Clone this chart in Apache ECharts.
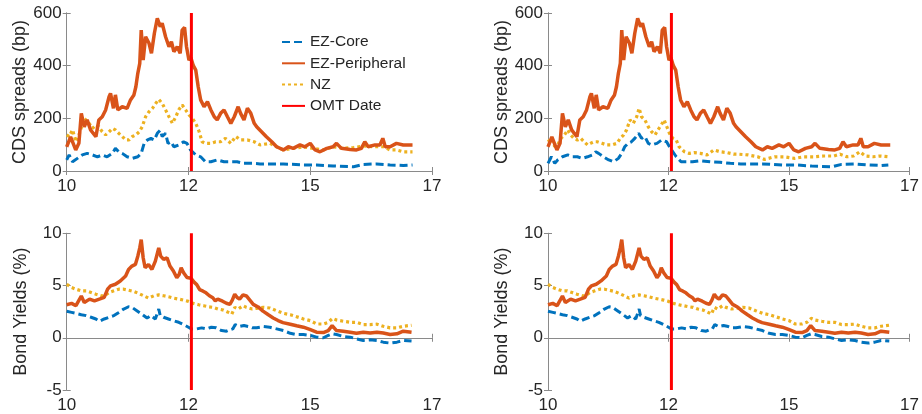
<!DOCTYPE html>
<html><head><meta charset="utf-8">
<script src="https://cdn.jsdelivr.net/npm/echarts@6/dist/echarts.min.js"></script>
<style>html,body{margin:0;padding:0;background:#fff}#c{width:922px;height:414px}</style>
</head><body><div id="c"></div><script>
// x values: years since 2010 (axis 0..7.5, ticks labelled as below)
const xTickLabels = ['10', '12', '15', '17'];
const seriesNames = ['EZ-Core', 'EZ-Peripheral', 'NZ', 'OMT Date'];
const omtDate = 2.56;

const cdsPeripheral = [[0,92],[0.08,130],[0.185,80],[0.25,105],[0.3,219],[0.36,168],[0.42,194],[0.49,156],[0.6,130],[0.66,194],[0.73,206],[0.8,232],[0.87,282],[0.9,295],[0.96,238],[1.0,289],[1.05,232],[1.14,244],[1.24,238],[1.31,270],[1.38,289],[1.42,320],[1.46,371],[1.5,409],[1.53,535],[1.57,421],[1.62,510],[1.69,485],[1.74,447],[1.8,523],[1.86,580],[1.92,548],[1.96,561],[2.03,510],[2.1,472],[2.15,491],[2.2,453],[2.27,472],[2.33,447],[2.37,535],[2.42,545],[2.46,472],[2.51,421],[2.55,430],[2.6,400],[2.65,383],[2.7,320],[2.75,270],[2.82,244],[2.89,263],[2.96,232],[3.03,206],[3.09,194],[3.16,219],[3.23,232],[3.3,206],[3.37,181],[3.44,206],[3.52,244],[3.57,219],[3.64,194],[3.71,238],[3.78,219],[3.85,181],[3.9,168],[4.0,149],[4.1,130],[4.21,111],[4.31,92],[4.45,80],[4.55,92],[4.65,86],[4.79,99],[4.89,92],[5.0,105],[5.1,80],[5.2,73],[5.34,86],[5.47,92],[5.54,105],[5.64,86],[5.82,82],[5.95,80],[6.05,86],[6.12,111],[6.19,92],[6.33,99],[6.43,99],[6.49,124],[6.54,92],[6.64,92],[6.77,105],[6.91,99],[7.05,99],[7.1,99]];

const cdsNZLeft = [[0,137],[0.05,131],[0.12,156],[0.19,111],[0.25,137],[0.32,175],[0.36,200],[0.39,194],[0.46,181],[0.53,162],[0.6,175],[0.66,168],[0.73,149],[0.8,137],[0.87,149],[0.94,162],[1.0,156],[1.07,143],[1.14,131],[1.21,118],[1.28,118],[1.35,131],[1.42,137],[1.49,149],[1.55,168],[1.62,206],[1.69,225],[1.76,238],[1.83,257],[1.89,272],[1.96,257],[2.03,232],[2.1,206],[2.17,181],[2.24,206],[2.3,232],[2.37,251],[2.44,232],[2.51,213],[2.58,200],[2.65,181],[2.72,149],[2.78,111],[2.85,105],[2.96,105],[3.06,111],[3.16,111],[3.26,124],[3.37,105],[3.47,131],[3.57,118],[3.71,118],[3.85,111],[3.97,99],[4.17,105],[4.31,92],[4.45,80],[4.65,86],[4.86,92],[5.06,86],[5.27,80],[5.47,92],[5.68,86],[5.89,89],[6.09,95],[6.3,92],[6.5,92],[6.64,80],[6.77,80],[6.91,73],[7.1,73]];

const cdsCoreLeft = [[0,42],[0.05,61],[0.12,35],[0.22,48],[0.32,61],[0.42,67],[0.53,61],[0.63,54],[0.73,61],[0.83,54],[0.94,67],[1.0,86],[1.07,73],[1.14,67],[1.24,54],[1.35,48],[1.46,54],[1.53,67],[1.59,105],[1.66,118],[1.73,124],[1.8,118],[1.86,143],[1.92,155],[1.96,131],[2.03,143],[2.08,105],[2.14,111],[2.2,92],[2.3,99],[2.4,111],[2.47,105],[2.54,80],[2.65,61],[2.75,54],[2.85,35],[2.96,35],[3.09,42],[3.23,35],[3.37,35],[3.5,35],[3.64,29],[3.81,29],[3.97,27],[4.45,27],[4.86,23],[5.13,23],[5.47,19],[5.89,16],[6.09,25],[6.36,27],[6.64,23],[6.91,21],[7.1,23]];

const cdsNZRight = [[0,111],[0.07,124],[0.14,92],[0.2,99],[0.27,124],[0.34,137],[0.41,156],[0.47,137],[0.54,124],[0.61,118],[0.68,124],[0.75,111],[0.82,99],[0.88,105],[0.95,111],[1.02,111],[1.12,105],[1.22,99],[1.33,99],[1.43,105],[1.5,124],[1.57,137],[1.63,156],[1.7,194],[1.77,181],[1.84,206],[1.89,238],[1.94,206],[2.01,194],[2.08,168],[2.15,149],[2.22,137],[2.28,156],[2.35,175],[2.41,194],[2.45,175],[2.52,143],[2.59,124],[2.66,118],[2.72,92],[2.83,73],[2.93,67],[3.03,70],[3.16,67],[3.3,61],[3.44,80],[3.57,73],[3.71,70],[3.85,64],[3.94,64],[4.15,61],[4.35,54],[4.49,44],[4.7,54],[4.9,54],[5.11,48],[5.31,54],[5.52,54],[5.72,57],[5.93,57],[6.06,64],[6.2,54],[6.34,57],[6.47,73],[6.58,57],[6.75,54],[6.89,57],[7.06,54]];

const cdsCoreRight = [[0,29],[0.07,54],[0.14,29],[0.2,42],[0.3,54],[0.41,61],[0.51,54],[0.61,54],[0.71,48],[0.82,54],[0.92,61],[0.99,73],[1.05,67],[1.15,54],[1.26,42],[1.36,35],[1.46,48],[1.53,67],[1.59,92],[1.66,105],[1.73,111],[1.8,124],[1.88,143],[1.94,124],[2.01,131],[2.08,105],[2.15,99],[2.26,105],[2.36,118],[2.46,111],[2.52,92],[2.59,73],[2.66,54],[2.76,35],[2.86,35],[3.0,35],[3.16,39],[3.37,35],[3.57,33],[3.78,29],[4.0,27],[4.45,27],[4.86,23],[5.13,23],[5.47,19],[5.89,16],[6.09,25],[6.36,27],[6.64,23],[6.91,21],[7.06,23]];

const bondPeripheral = [[0,3.16],[0.1,3.29],[0.19,3.07],[0.3,4.0],[0.36,3.38],[0.47,3.7],[0.57,3.54],[0.67,3.7],[0.77,3.86],[0.84,4.65],[0.9,4.97],[1.0,5.12],[1.1,5.44],[1.21,5.92],[1.27,6.54],[1.34,6.86],[1.41,7.02],[1.46,7.81],[1.5,8.6],[1.53,9.39],[1.57,7.66],[1.61,6.7],[1.68,7.02],[1.75,6.54],[1.82,7.34],[1.89,8.6],[1.93,7.81],[1.99,7.5],[2.06,7.66],[2.12,6.86],[2.19,6.39],[2.26,5.76],[2.31,6.07],[2.35,6.7],[2.4,6.23],[2.47,5.76],[2.55,5.7],[2.62,5.3],[2.67,5.09],[2.73,4.6],[2.8,4.46],[2.86,4.3],[2.93,4.02],[3.0,3.83],[3.05,3.54],[3.1,3.7],[3.2,3.5],[3.28,3.3],[3.35,3.2],[3.4,3.6],[3.45,4.17],[3.5,3.86],[3.55,3.7],[3.62,4.1],[3.69,4.0],[3.76,3.6],[3.83,3.2],[3.93,2.95],[4.03,2.55],[4.14,2.2],[4.24,1.9],[4.34,1.65],[4.44,1.45],[4.59,1.3],[4.72,1.15],[4.86,1.01],[4.99,0.8],[5.13,0.53],[5.27,0.5],[5.37,0.69],[5.45,1.17],[5.54,0.69],[5.68,0.63],[5.82,0.53],[5.95,0.43],[6.09,0.53],[6.23,0.45],[6.37,0.53],[6.5,0.45],[6.64,0.31],[6.78,0.38],[6.91,0.63],[7.08,0.53]];

const bondNZ = [[0,5.12],[0.1,4.81],[0.19,4.65],[0.3,4.49],[0.4,4.49],[0.5,4.33],[0.6,4.17],[0.71,4.02],[0.77,4.02],[0.87,4.33],[0.97,4.49],[1.07,4.65],[1.17,4.65],[1.27,4.55],[1.38,4.43],[1.48,4.24],[1.58,4.02],[1.68,3.8],[1.79,4.02],[1.89,4.1],[1.99,4.02],[2.09,3.93],[2.19,3.8],[2.3,3.7],[2.4,3.6],[2.5,3.48],[2.6,3.29],[2.71,3.16],[2.81,3.07],[2.91,2.97],[3.01,2.91],[3.11,2.75],[3.22,2.65],[3.32,2.43],[3.39,2.27],[3.45,2.91],[3.52,2.75],[3.62,3.07],[3.69,2.91],[3.81,2.75],[3.9,2.82],[4.04,2.91],[4.17,2.85],[4.31,2.59],[4.45,2.34],[4.59,2.21],[4.72,2.02],[4.86,1.8],[5.0,1.64],[5.13,1.32],[5.27,1.32],[5.37,1.48],[5.46,1.86],[5.54,1.7],[5.68,1.58],[5.82,1.48],[5.95,1.48],[6.09,1.26],[6.23,1.26],[6.37,1.3],[6.5,1.1],[6.64,0.95],[6.78,0.95],[6.91,1.1],[7.08,1.2]];

const bondCore = [[0,2.53],[0.1,2.43],[0.19,2.34],[0.3,2.21],[0.4,2.12],[0.5,1.96],[0.6,1.8],[0.67,1.58],[0.77,1.8],[0.87,1.96],[0.97,2.12],[1.07,2.43],[1.17,2.75],[1.27,2.97],[1.34,2.91],[1.44,2.59],[1.54,2.27],[1.65,1.89],[1.73,2.12],[1.82,1.8],[1.89,2.75],[1.92,2.12],[1.99,1.96],[2.09,1.8],[2.19,1.64],[2.3,1.48],[2.4,1.26],[2.5,1.01],[2.56,0.85],[2.67,0.85],[2.77,0.95],[2.87,0.85],[2.97,1.01],[3.07,0.95],[3.18,0.69],[3.28,0.63],[3.34,0.75],[3.41,0.85],[3.46,1.26],[3.54,1.07],[3.64,1.17],[3.74,1.07],[3.81,0.95],[3.9,0.95],[4.04,1.07],[4.17,1.01],[4.31,0.85],[4.45,0.69],[4.59,0.43],[4.72,0.31],[4.86,0.31],[5.0,0.22],[5.13,0.06],[5.27,0.0],[5.37,0.22],[5.46,0.38],[5.54,0.31],[5.68,0.12],[5.82,0.06],[5.95,-0.1],[6.09,-0.26],[6.23,-0.2],[6.37,-0.26],[6.5,-0.42],[6.64,-0.51],[6.78,-0.42],[6.91,-0.26],[7.08,-0.32]];

const cdsRange = [0, 600, 200];
const bondRange = [-5, 10, 5];
const yTitles = ['CDS spreads (bp)', 'Bond Yields (%)'];

const FONT = '"Liberation Sans", Arial, Helvetica, sans-serif';
const TXT = '#262626';
const BOX = '#8a8a8a';
const colors = { 'EZ-Core': '#0072BD', 'EZ-Peripheral': '#D95319', 'NZ': '#EDB120', 'OMT Date': '#FF0000' };

const panels = [
  { grid: { left: 66.7, top: 13, width: 365.3, height: 158 }, range: cdsRange, title: yTitles[0], core: cdsCoreLeft, peri: cdsPeripheral, nz: cdsNZLeft },
  { grid: { left: 548, top: 13, width: 365, height: 158 }, range: cdsRange, title: yTitles[0], core: cdsCoreRight, peri: cdsPeripheral, nz: cdsNZRight },
  { grid: { left: 66.7, top: 233.3, width: 365.3, height: 158 }, range: bondRange, title: yTitles[1], core: bondCore, peri: bondPeripheral, nz: bondNZ },
  { grid: { left: 548, top: 233.3, width: 365, height: 158 }, range: bondRange, title: yTitles[1], core: bondCore, peri: bondPeripheral, nz: bondNZ }
];

const grid = [], xAxis = [], yAxis = [], series = [];
panels.forEach((p, i) => {
  grid.push(Object.assign({ containLabel: false }, p.grid));
  const axLine = { show: true, lineStyle: { color: BOX, width: 1 } };
  const axTick = { show: true, inside: true, length: 4, lineStyle: { color: BOX } };
  xAxis.push({
    type: 'value', gridIndex: i, min: 0, max: 7.5, interval: 2.5, position: 'bottom',
    axisLine: axLine, axisTick: axTick, splitLine: { show: false },
    axisLabel: { color: TXT, fontFamily: FONT, fontSize: 17, margin: 7,
      formatter: v => xTickLabels[Math.round(v / 2.5)] }
  });
  xAxis.push({
    type: 'value', gridIndex: i, min: 0, max: 7.5, interval: 2.5, position: 'top',
    axisLine: axLine, axisTick: axTick, splitLine: { show: false }, axisLabel: { show: false }
  });
  yAxis.push({
    type: 'value', gridIndex: i, min: p.range[0], max: p.range[1], interval: p.range[2], position: 'left',
    axisLine: axLine, axisTick: axTick, splitLine: { show: false },
    axisLabel: { color: TXT, fontFamily: FONT, fontSize: 17, margin: 5 },
    name: p.title, nameLocation: 'middle', nameGap: 37, nameRotate: 90,
    nameTextStyle: { color: TXT, fontFamily: FONT, fontSize: 18 }
  });
  yAxis.push({
    type: 'value', gridIndex: i, min: p.range[0], max: p.range[1], interval: p.range[2], position: 'right',
    axisLine: axLine, axisTick: axTick, splitLine: { show: false }, axisLabel: { show: false }
  });
  const xi = i * 2, yi = i * 2;
  const base = { type: 'line', xAxisIndex: xi, yAxisIndex: yi, showSymbol: false, symbol: 'none', animation: false, clip: true, silent: true };
  series.push(Object.assign({}, base, { name: 'EZ-Core', data: p.core, color: colors['EZ-Core'], z: 4,
    lineStyle: { color: colors['EZ-Core'], width: 3, type: [8, 4] } }));
  series.push(Object.assign({}, base, { name: 'EZ-Peripheral', data: p.peri, color: colors['EZ-Peripheral'], z: 3,
    lineStyle: { color: colors['EZ-Peripheral'], width: 3.5 } }));
  series.push(Object.assign({}, base, { name: 'NZ', data: p.nz, color: colors['NZ'], z: 2,
    lineStyle: { color: colors['NZ'], width: 3.2, type: [3, 3] } }));
  series.push(Object.assign({}, base, { name: 'OMT Date', data: [[omtDate, p.range[0]], [omtDate, p.range[1]]], color: colors['OMT Date'], z: 5,
    lineStyle: { color: colors['OMT Date'], width: 3 } }));
});

const chart = echarts.init(document.getElementById('c'), null, { renderer: 'canvas' });
chart.setOption({
  backgroundColor: '#fff',
  animation: false,
  grid, xAxis, yAxis, series,
  legend: {
    data: seriesNames, orient: 'vertical', left: 276, top: 29,
    itemWidth: 23, itemHeight: 14, itemGap: 5.3, selectedMode: false,
    itemStyle: { opacity: 0, borderWidth: 0 },
    textStyle: { color: TXT, fontFamily: FONT, fontSize: 15.5 }
  }
});
</script></body></html>
